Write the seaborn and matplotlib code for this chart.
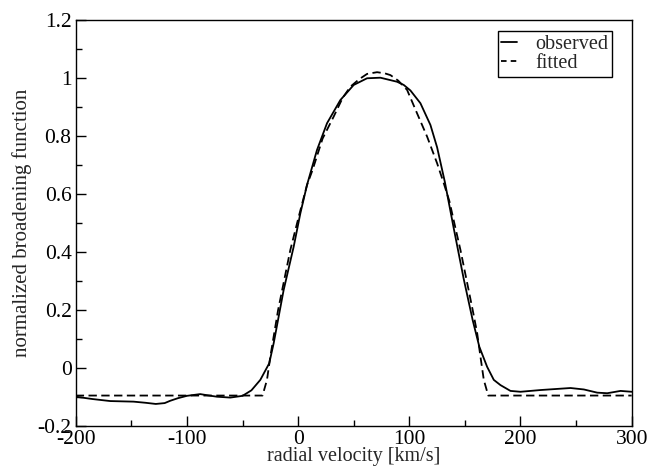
import matplotlib
matplotlib.use("Agg")
import matplotlib.pyplot as plt
import seaborn as sns
import pandas as pd
from matplotlib.ticker import MultipleLocator, FuncFormatter

# ---- data ----
x_obs = [-200, -185, -169, -148, -137, -128, -120, -115, -108, -100, -88, -80, -73,
         -61, -50, -42, -34, -26, -22, -13, -4, 2, 8, 17, 26, 38, 50, 62, 74, 89,
         95, 101, 110, 119, 125, 132, 140, 149, 157, 163, 170, 176, 182, 191,
         200, 218, 245, 257, 269, 278, 290, 300]
y_obs = [-0.100, -0.108, -0.115, -0.117, -0.121, -0.125, -0.122, -0.114, -0.105,
         -0.097, -0.091, -0.096, -0.100, -0.103, -0.097, -0.078, -0.042, 0.015,
         0.084, 0.268, 0.417, 0.532, 0.630, 0.751, 0.843, 0.923, 0.975, 0.998,
         1.000, 0.986, 0.975, 0.956, 0.912, 0.837, 0.760, 0.640, 0.480, 0.305,
         0.164, 0.072, 0.003, -0.042, -0.060, -0.080, -0.083, -0.077, -0.070,
         -0.075, -0.086, -0.088, -0.080, -0.083]

x_fit = [-200, -32, -28, -25, -18, -7, 0.5, 8, 13, 22, 32, 40, 47, 55, 62, 71, 78,
         83, 90, 98, 107, 116, 125, 131, 136, 141, 146, 152, 157, 161, 164,
         167, 171, 300]
y_fit = [-0.096, -0.096, -0.042, 0.038, 0.199, 0.406, 0.520, 0.630, 0.682, 0.790,
         0.866, 0.930, 0.969, 0.995, 1.013, 1.019, 1.015, 1.009, 0.990, 0.958,
         0.877, 0.797, 0.705, 0.636, 0.575, 0.490, 0.406, 0.293, 0.199,
         0.120, 0.038, -0.042, -0.096, -0.096]

labels = ["observed", "fitted"]
x_label = "radial velocity [km/s]"
y_label = "normalized broadening function"

df_obs = pd.DataFrame({"v": x_obs, "bf": y_obs})
df_fit = pd.DataFrame({"v": x_fit, "bf": y_fit})

sns.set_style("ticks")
plt.rcParams["font.family"] = ["Liberation Serif", "DejaVu Serif"]
plt.rcParams["axes.unicode_minus"] = False
plt.rcParams["lines.scale_dashes"] = False

fig, ax = plt.subplots(figsize=(6.62, 4.69), dpi=100)
fig.subplots_adjust(left=0.1144, right=0.9542, bottom=0.0923, top=0.958)

sns.lineplot(data=df_obs, x="v", y="bf", ax=ax, color="black", lw=1.3,
             label=labels[0], sort=False, estimator=None)
sns.lineplot(data=df_fit, x="v", y="bf", ax=ax, color="black", lw=1.3,
             label=labels[1], sort=False, estimator=None)
ax.lines[1].set_dashes((6, 3.2))

ax.set_xlim(-200, 300)
ax.set_ylim(-0.2, 1.2)
ax.xaxis.set_major_locator(MultipleLocator(100))
ax.xaxis.set_minor_locator(MultipleLocator(50))
ax.yaxis.set_major_locator(MultipleLocator(0.2))
ax.yaxis.set_minor_locator(MultipleLocator(0.1))
fmt = FuncFormatter(lambda v, p: f"{round(v, 6):g}")
ax.xaxis.set_major_formatter(fmt)
ax.yaxis.set_major_formatter(fmt)
ax.tick_params(which="both", direction="in", top=False, right=False,
               colors="black", labelsize=15.5, width=1.0)
ax.tick_params(which="major", length=7, pad=3)
ax.tick_params(which="minor", length=4)
for s in ax.spines.values():
    s.set_visible(True)
    s.set_color("black")
    s.set_linewidth(1.0)

ax.set_xlabel(x_label, fontsize=14.5, labelpad=-1)
ax.set_ylabel(y_label, fontsize=15, labelpad=4)

leg = ax.legend(loc="upper right", bbox_to_anchor=(0.965, 0.972), fontsize=14.5,
                frameon=True, fancybox=False, edgecolor="black", framealpha=1,
                handlelength=0.8, handletextpad=0.9, borderpad=0.18,
                labelspacing=0.0, borderaxespad=0)
leg.get_frame().set_linewidth(1.0)
for h in leg.get_lines():
    h.set_linewidth(1.3)
leg.get_lines()[1].set_dashes((4, 3))

fig.savefig("out.png", dpi=100)
